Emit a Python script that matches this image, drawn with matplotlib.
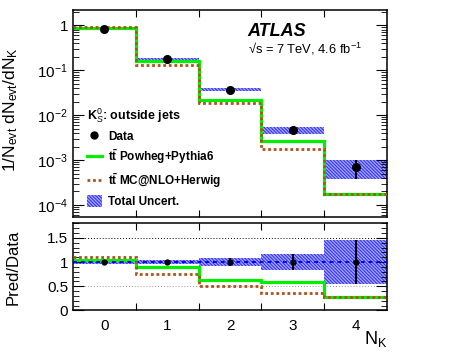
import numpy as np
import matplotlib.pyplot as plt
from matplotlib.lines import Line2D
from matplotlib.patches import Patch
from matplotlib.ticker import FixedLocator, NullFormatter, MultipleLocator, LogLocator

plt.rcParams['font.family'] = ['Liberation Sans', 'DejaVu Sans']
plt.rcParams['mathtext.fontset'] = 'custom'
plt.rcParams['mathtext.rm'] = 'Liberation Sans'
plt.rcParams['mathtext.it'] = 'Liberation Sans:italic'
plt.rcParams['mathtext.bf'] = 'Liberation Sans:bold'
plt.rcParams['hatch.linewidth'] = 0.8

# number of K0s outside jets
nk = [0, 1, 2, 3, 4]
edges = [-0.5, 0.5, 1.5, 2.5, 3.5, 4.5]
# normalised distributions
data = [0.83, 0.179, 0.037, 0.0047, 7.0e-4]
powheg = [0.86, 0.158, 0.0216, 0.0026, 1.76e-4]
mcnlo = [0.90, 0.132, 0.0185, 0.00173, 1.76e-4]
# relative total uncertainty
rel_unc = [0.03, 0.05, 0.075, 0.17, 0.46]
# ratio panel (pred/data)
powheg_ratio = [1.04, 0.89, 0.62, 0.59, 0.28]
mcnlo_ratio = [1.10, 0.75, 0.50, 0.36, 0.28]

data = np.array(data)
rel_unc = np.array(rel_unc)
lo = data * (1 - rel_unc)
hi = data * (1 + rel_unc)

green = '#00ee00'
brown = '#b0501a'
band_face = '#aaaaff'
band_hatch = '#3030ff'
hatch = '\\' * 10

fig = plt.figure(figsize=(4.56, 3.54), dpi=100)
ax = fig.add_axes([0.160, 0.388, 0.689, 0.584])
rx = fig.add_axes([0.160, 0.123, 0.689, 0.246])

#Top panel
ax.bar(nk, hi - lo, width=1.0, bottom=lo, color=band_face, edgecolor=band_hatch,
       hatch=hatch, linewidth=0, zorder=1)
ax.stairs(powheg, edges, color=green, lw=2.3, baseline=None, zorder=2)
ax.stairs(mcnlo, edges, color=brown, lw=2.0, ls=(0, (1, 1)), baseline=None, zorder=3)
ax.errorbar(nk, data, yerr=[data - lo, hi - data], fmt='o', color='black',
            ms=5.5, elinewidth=1.5, capsize=0, zorder=4)
ax.set_yscale('log')
ax.set_ylim(5.5e-5, 2.2)
ax.set_xlim(-0.5, 4.5)
ax.xaxis.set_major_locator(FixedLocator([0.5, 1.5, 2.5, 3.5]))
ax.xaxis.set_major_formatter(NullFormatter())
ax.yaxis.set_minor_locator(LogLocator(base=10, subs=np.arange(2, 10), numticks=10))
ax.yaxis.set_minor_formatter(NullFormatter())
ax.set_yticks([1e-4, 1e-3, 1e-2, 1e-1, 1])
ax.set_yticklabels(['$10^{-4}$', '$10^{-3}$', '$10^{-2}$', '$10^{-1}$', '1'])
ax.tick_params(which='both', direction='in', top=True, right=True, labelsize=11)
ax.tick_params(which='major', length=8)
ax.tick_params(which='minor', length=4)
ax.tick_params(axis='x', which='major', length=5)
ax.set_ylabel(r'1/N$_{\mathregular{evt}}$ dN$_{\mathregular{evt}}$/dN$_{\mathregular{K}}$',
              fontsize=12.5)
ax.yaxis.set_label_coords(-0.17, 0.52)

ax.text(0.554, 0.894, 'ATLAS', transform=ax.transAxes, fontsize=13,
        fontweight='bold', fontstyle='italic', va='center')
ax.text(0.556, 0.811, '√s = 7 TeV, 4.6 fb$^{-1}$', transform=ax.transAxes,
        fontsize=9.3, va='center')

handles = [
    Line2D([], [], marker='o', color='black', ms=5, ls='none'),
    Line2D([], [], color=green, lw=2.3),
    Line2D([], [], color=brown, lw=2.0, ls=(0, (1, 1))),
    Patch(facecolor=band_face, edgecolor=band_hatch, hatch=hatch, lw=0),
]
labels = ['Data', r'$\mathbf{t\bar{t}}$ Powheg+Pythia6',
          r'$\mathbf{t\bar{t}}$ MC@NLO+Herwig', 'Total Uncert.']
leg = ax.legend(handles, labels, loc='upper left', bbox_to_anchor=(0.045, 0.535),
                frameon=False, prop={'weight': 'bold', 'size': 8.5},
                title=r'K$^0_S$: outside jets', alignment='left',
                handlelength=1.25, handleheight=1.2, handletextpad=0.5,
                labelspacing=0.42, borderaxespad=0, borderpad=0)
leg.get_title().set_fontweight('bold')
leg.get_title().set_fontsize(9)

#Ratio panel
rx.bar(nk, 2 * rel_unc, width=1.0, bottom=1 - rel_unc, color=band_face,
       edgecolor=band_hatch, hatch=hatch, linewidth=0, zorder=1)
rx.axhline(1.5, color='black', lw=0.7, ls=(0, (1, 2)), zorder=0)
rx.axhline(0.5, color='#999999', lw=0.7, ls=(0, (1, 2)), zorder=0)
rx.axhline(1.0, color='blue', lw=1.4, ls=(0, (2, 2)), zorder=3)
rx.stairs(powheg_ratio, edges, color=green, lw=2.3, baseline=None, zorder=2)
rx.stairs(mcnlo_ratio, edges, color=brown, lw=2.0, ls=(0, (1, 1)), baseline=None, zorder=3)
rx.errorbar(nk, np.ones(5), yerr=rel_unc, fmt='o', color='black', ms=3.5,
            elinewidth=1.5, capsize=0, zorder=4)
rx.set_xlim(-0.5, 4.5)
rx.set_ylim(0, 1.8)
rx.xaxis.set_major_locator(FixedLocator([0.5, 1.5, 2.5, 3.5]))
rx.xaxis.set_major_formatter(NullFormatter())
rx.set_xticks(nk, minor=True)
rx.set_xticklabels([str(n) for n in nk], minor=True)
rx.set_yticks([0, 0.5, 1, 1.5])
rx.set_yticklabels(['0', '0.5', '1', '1.5'])
rx.yaxis.set_minor_locator(MultipleLocator(0.1))
rx.tick_params(which='both', direction='in', top=True, right=True, labelsize=11)
rx.tick_params(axis='x', which='major', length=5)
rx.tick_params(axis='x', which='minor', length=0, pad=6)
rx.tick_params(axis='y', which='major', length=8)
rx.tick_params(axis='y', which='minor', length=4)
rx.set_ylabel('Pred/Data', fontsize=12)
rx.yaxis.set_label_coords(-0.165, 0.5)
fig.text(387 / 456, 1 - 349 / 354, r'N$_{\mathregular{K}}$', fontsize=13,
         ha='right', va='bottom')

for a in (ax, rx):
    for s in a.spines.values():
        s.set_linewidth(1.1)

plt.savefig('out.png', dpi=100)
